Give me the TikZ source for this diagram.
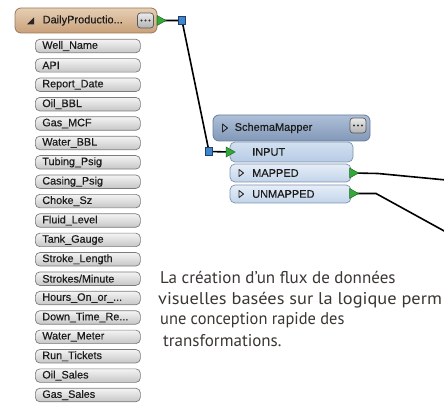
\documentclass[tikz,border=0pt]{standalone}
\usepackage{fontspec}
\usepackage{graphicx}
\setmainfont{Liberation Sans}
\newfontfamily\capfont{PT Sans}
\newfontfamily\uifont{Liberation Sans}[FakeBold=0.35]
\usetikzlibrary{shapes.geometric}
\pgfdeclarelayer{bg}
\pgfsetlayers{bg,main}
\newcommand\tdots{...}
\definecolor{tanT}{HTML}{E6CFB3}
\definecolor{tanB}{HTML}{C9A07A}
\definecolor{tanD}{HTML}{9A7656}
\definecolor{grT}{HTML}{F4F4F4}
\definecolor{grB}{HTML}{C6C6C6}
\definecolor{grD}{HTML}{7C7C7C}
\definecolor{smT}{HTML}{AEC0D8}
\definecolor{smB}{HTML}{8298B8}
\definecolor{smD}{HTML}{697C98}
\definecolor{ltT}{HTML}{E6EEF8}
\definecolor{ltB}{HTML}{C2D4EA}
\definecolor{ltD}{HTML}{7E92AE}
\definecolor{inT}{HTML}{D3E1F1}
\definecolor{inB}{HTML}{B7CBE5}
\definecolor{grn}{HTML}{35A83A}
\definecolor{grnD}{HTML}{1E6B22}
\definecolor{blu}{HTML}{3F86CF}
\definecolor{bluD}{HTML}{1E3F66}
\definecolor{txt}{HTML}{1C1C1C}
\definecolor{cap}{HTML}{3A3632}
\tikzset{
  hdrbox/.style={draw=tanD, line width=0.8pt, rounded corners=6pt, top color=tanT, bottom color=tanB, minimum width=142pt, minimum height=25pt, inner sep=0pt},
  smbox/.style={draw=smD, line width=0.8pt, rounded corners=6pt, top color=smT, bottom color=smB, minimum height=26pt, inner sep=0pt},
  portbox/.style={draw=ltD, line width=0.7pt, rounded corners=5pt, top color=ltT, bottom color=ltB, inner sep=0pt},
  attrbox/.style={draw=grD, line width=0.7pt, rounded corners=4.5pt, top color=grT, bottom color=grB, minimum height=13.5pt, text width=91pt, inner xsep=7pt, inner ysep=0pt, align=left, anchor=west, font=\uifont\fontsize{10.8}{11}\selectfont, text=txt},
  dotsbtn/.style={draw=black!65, line width=0.7pt, rounded corners=3pt, top color=black!8, bottom color=black!30, minimum width=16pt, minimum height=15pt, inner sep=0pt},
  garrow/.style={isosceles triangle, isosceles triangle stretches, shape border rotate=0, fill=grn, draw=grnD, line width=0.5pt, minimum width=10pt, minimum height=9pt, inner sep=0pt},
  bsq/.style={rectangle, fill=blu, draw=bluD, line width=0.6pt, minimum size=7.5pt, inner sep=0pt},
  wire/.style={draw=black, line width=1.6pt},
  lbl/.style={anchor=west, inner sep=0pt, font=\uifont\fontsize{11}{12}\selectfont, text=txt},
  captxt/.style={anchor=base west, inner sep=0pt, font=\capfont\fontsize{17}{18}\selectfont, text=cap}
}
\begin{document}
\begin{tikzpicture}[x=1pt,y=-1pt]
\useasboundingbox (0,0) rectangle (444,403);
\clip (0,0) rectangle (444,403);

% DailyProduction feature type
\node[hdrbox] (dp) at (86,20.5) {};
\fill[black!85] (27,24.5) -- (34,24.5) -- (34,17.5) -- cycle;
\node[lbl] (dptxt) at (42.5,20.5) {DailyProductio...};
\node[dotsbtn] (dpb) at (145.5,20.5) {};
\foreach \dx in {-4,0,4} \fill[black!80] (145.5+\dx,20.5) circle (1.2pt);
\node[garrow] (go1) at (160,20.5) {};

\foreach \t [count=\i] in {Well\_Name,API,Report\_Date,Oil\_BBL,Gas\_MCF,Water\_BBL,Tubing\_Psig,Casing\_Psig,Choke\_Sz,Fluid\_Level,Tank\_Gauge,Stroke\_Length,Strokes/Minute,{Hours\_On\_or\_\tdots},{Down\_Time\_Re\tdots},Water\_Meter,Run\_Tickets,Oil\_Sales,Gas\_Sales}
  \node[attrbox] (a\i) at (35,{46+(\i-1)*19.39}) {\t};

% SchemaMapper transformer
\node[smbox, minimum width=157pt] (sm) at (291.5,128) {};
\draw[black!85, line width=0.9pt, line join=round] (222.5,124) -- (222.5,132) -- (227.5,128) -- cycle;
\node[lbl] (smtxt) at (234.5,128) {SchemaMapper};
\node[dotsbtn] (smb) at (358,125.5) {};
\foreach \dx in {-4,0,4} \fill[black!80] (358+\dx,125.5) circle (1.2pt);

\node[portbox, top color=inT, bottom color=inB, minimum width=123pt, minimum height=20pt] (pin) at (291.5,152) {};
\node[lbl] (pintxt) at (252,152) {INPUT};
\node[portbox, minimum width=121pt, minimum height=18pt] (pmap) at (290.5,173) {};
\draw[black!85, line width=0.9pt, line join=round] (239,169.5) -- (239,176.5) -- (243.5,173) -- cycle;
\node[lbl] (pmaptxt) at (252,173) {MAPPED};
\node[portbox, minimum width=121pt, minimum height=18pt] (punm) at (290.5,194) {};
\draw[black!85, line width=0.9pt, line join=round] (239,190.5) -- (239,197.5) -- (243.5,194) -- cycle;
\node[lbl] (punmtxt) at (252,194) {UNMAPPED};

\node[garrow] (gi) at (229,152) {};
\node[garrow] (gm) at (352.5,173) {};
\node[garrow] (gu) at (352.5,193.5) {};

\node[bsq] (sq1) at (182,20.5) {};
\node[bsq] (sq2) at (209,151.5) {};
\coordinate (mb) at (378,173.5);
\coordinate (me) at (446,180);
\coordinate (ub) at (376,193.5);
\coordinate (ue) at (446,232);

\begin{pgfonlayer}{bg}
\draw[wire] (go1.center) -- (sq1.center) -- (sq2.center) -- (gi.center);
\draw[wire] (gm.center) -- (mb) -- (me);
\draw[wire] (gu.center) -- (ub) -- (ue);
\end{pgfonlayer}

% caption
\node[captxt] (t1) at (160,283) {La création d’un flux de données};
\node[captxt] (t2) at (158,304) {\scalebox{1.08}[1]{visuelles basées sur la logique perm}};
\node[captxt] (t3) at (160,324.5) {\scalebox{0.965}[1]{une conception rapide des}};
\node[captxt] (t4) at (163,346) {transformations.};
\end{tikzpicture}
\end{document}
